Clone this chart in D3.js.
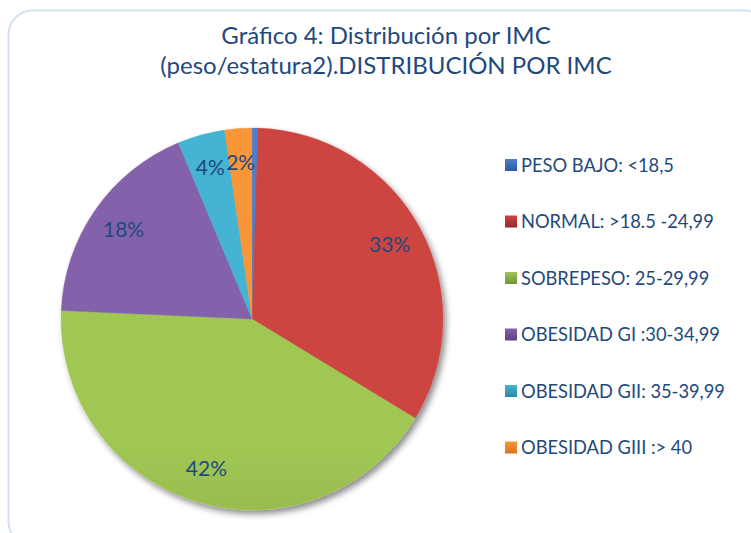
<!DOCTYPE html>
<html>
<head>
<meta charset="utf-8">
<script src="https://cdn.jsdelivr.net/npm/d3@7"></script>
<style>
  body { margin: 0; background: #fff; }
  svg { font-family: Lato, "Open Sans", sans-serif; }
</style>
</head>
<body>
<svg id="chart" width="751" height="533"></svg>
<script>
var categories = ["PESO BAJO: <18,5", "NORMAL: >18.5 -24,99", "SOBREPESO: 25-29,99",
                  "OBESIDAD GI :30-34,99", "OBESIDAD GII: 35-39,99", "OBESIDAD GIII :> 40"];
var values = [0.5, 33.2, 42, 18, 4, 2.3];
var labels = ["", "33%", "42%", "18%", "4%", "2%"];
var titleLines = ["Gráfico 4: Distribución por IMC", "(peso/estatura2).DISTRIBUCIÓN POR IMC"];

var colorsTop = ["#4a7fcf", "#cc4440", "#a0c653", "#8462ab", "#45b4d2", "#f89637"];
var colorsBottom = ["#2f5a9a", "#922e2b", "#72913a", "#5c4480", "#2a87a0", "#d7721b"];
var textColor = "#1f497d";

var svg = d3.select("#chart");
var cx = 252, cy = 319, radius = 191;

var defs = svg.append("defs");
var shadow = defs.append("filter").attr("id", "shadow")
    .attr("x", "-10%").attr("y", "-10%").attr("width", "130%").attr("height", "130%");
shadow.append("feDropShadow")
    .attr("dx", 3).attr("dy", 4).attr("stdDeviation", 3)
    .attr("flood-color", "#000").attr("flood-opacity", 0.45);

categories.forEach(function(c, i){
    var g = defs.append("linearGradient").attr("id", "grad" + i)
        .attr("gradientUnits", "userSpaceOnUse")
        .attr("x1", 0).attr("y1", cy - radius).attr("x2", 0).attr("y2", cy + radius);
    g.append("stop").attr("offset", "0%").attr("stop-color", colorsTop[i]);
    g.append("stop").attr("offset", "100%").attr("stop-color", colorsBottom[i]);
    var lg = defs.append("linearGradient").attr("id", "lgrad" + i)
        .attr("x1", 0).attr("y1", 0).attr("x2", 0).attr("y2", 1);
    lg.append("stop").attr("offset", "0%").attr("stop-color", colorsTop[i]);
    lg.append("stop").attr("offset", "100%").attr("stop-color", colorsBottom[i]);
});

// outer frame
svg.append("rect")
    .attr("x", 8.5).attr("y", 10.5)
    .attr("width", 760).attr("height", 535)
    .attr("rx", 24).attr("ry", 24)
    .attr("fill", "#fff")
    .attr("stroke", "#d3e1f3").attr("stroke-width", 2);

// title
var title = svg.append("text")
    .attr("text-anchor", "middle")
    .attr("fill", textColor)
    .attr("font-size", "24px");
titleLines.forEach(function(t, i){
    title.append("tspan").attr("x", 386).attr("y", 44 + i * 30).text(t);
});

var pie = d3.pie().sort(null).value(function(d){ return d; });
var arc = d3.arc().innerRadius(0).outerRadius(radius);
var labelArc = d3.arc().innerRadius(radius * 0.82).outerRadius(radius * 0.82);
var arcs = pie(values);

var container = svg.append("g")
    .attr("transform", "translate(" + cx + "," + cy + ")");

var slices = container.append("g").attr("filter", "url(#shadow)");
slices.selectAll("path")
    .data(arcs)
    .enter()
    .append("path")
    .attr("d", arc)
    .attr("fill", function(d, i){ return "url(#grad" + i + ")"; })
    .attr("stroke", function(d, i){ return colorsTop[i]; })
    .attr("stroke-width", 0.3);

container.selectAll("text.lbl")
    .data(arcs)
    .enter()
    .append("text")
    .attr("class", "lbl")
    .attr("transform", function(d){ return "translate(" + labelArc.centroid(d) + ")"; })
    .attr("text-anchor", "middle")
    .attr("dy", "0.35em")
    .attr("fill", textColor)
    .attr("font-size", "21px")
    .text(function(d, i){ return labels[i]; });

// legend
var legend = svg.append("g");
var rows = legend.selectAll("g")
    .data(categories)
    .enter()
    .append("g")
    .attr("transform", function(d, i){ return "translate(505," + (165 + i * 56.5) + ")"; });
rows.append("rect")
    .attr("x", 0).attr("y", -6)
    .attr("width", 12).attr("height", 12)
    .attr("fill", function(d, i){ return "url(#lgrad" + i + ")"; });
rows.append("text")
    .attr("x", 16).attr("y", 0).attr("dy", "0.36em")
    .attr("fill", textColor)
    .attr("font-size", "18.3px")
    .text(function(d){ return d; });
</script>
</body>
</html>
